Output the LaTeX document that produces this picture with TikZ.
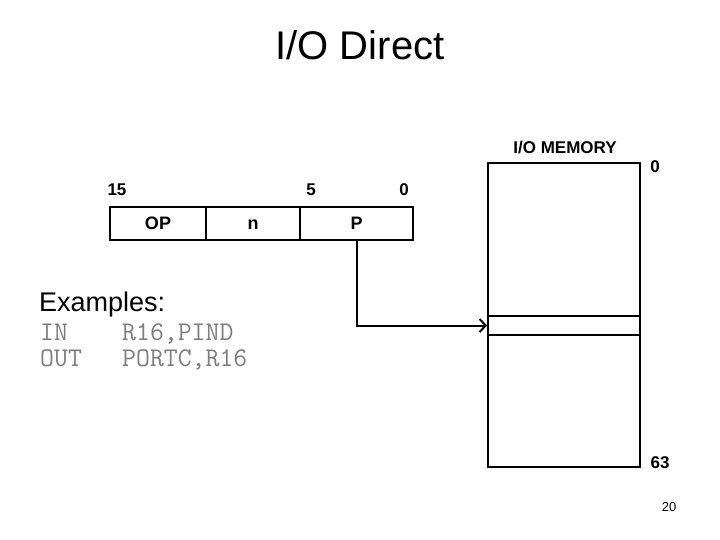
\documentclass[tikz,border=0pt]{standalone}
\usepackage{fontspec}
\setmainfont{Liberation Sans}
\usepackage{tikz}
\usetikzlibrary{arrows.meta, positioning}
\definecolor{ExGray}{RGB}{125,125,125}

\begin{document}
\begin{tikzpicture}[
    x=1pt, y=-1pt,
    every node/.style={inner sep=0pt, align=center},
    field/.style={draw, line width=2pt, minimum height=33pt, text height=12.5pt, text depth=0pt,
                  font=\fontsize{18}{21}\selectfont\bfseries},
    bitno/.style={font=\fontsize{17}{20}\selectfont\bfseries},
    mem/.style={draw, line width=2pt, minimum width=152pt},
    exline/.style={anchor=base west, text=ExGray, font=\fontsize{27}{31}\ttfamily}
]
\useasboundingbox (0,0) rectangle (720,540);

\node[font=\fontsize{40}{46}\selectfont] (title) at (360,45) {I/O Direct};

% instruction word
\node[field, minimum width=96pt] (op) at (158,223.5) {OP};
\node[field, minimum width=94pt] (nf) at (253,223.5) {n};
\node[field, minimum width=113pt] (pf) at (356.5,223.5) {P};
\node[bitno] (b15) at (117,190) {15};
\node[bitno] (b5) at (311,190) {5};
\node[bitno] (b0) at (404,190) {0};

% I/O memory
\node[mem, minimum height=304pt] (iomem) at (564,315) {};
\node[mem, minimum height=19pt] (slot) at (564,325.5) {};
\node[font=\fontsize{17}{20}\selectfont\bfseries] (memlbl) at (565,148) {I/O MEMORY};
\node[bitno] (m0) at (655,167) {0};
\node[bitno] (m63) at (660,463) {63};

\draw[line width=2pt, -{Straight Barb[length=6pt, width=13pt]}] (pf.south) |- (slot.west);

% examples
\node[anchor=base west, font=\fontsize{27}{31}\selectfont] (ex) at (39,311) {Examples:};
\node[exline] (in) at (40,340) {IN};
\node[exline] (inarg) at (122,340) {R16,PIND};
\node[exline] (out) at (40,366) {OUT};
\node[exline] (outarg) at (122,366) {PORTC,R16};

\node[font=\fontsize{13}{16}\selectfont] (pg) at (669,507) {20};
\end{tikzpicture}
\end{document}
